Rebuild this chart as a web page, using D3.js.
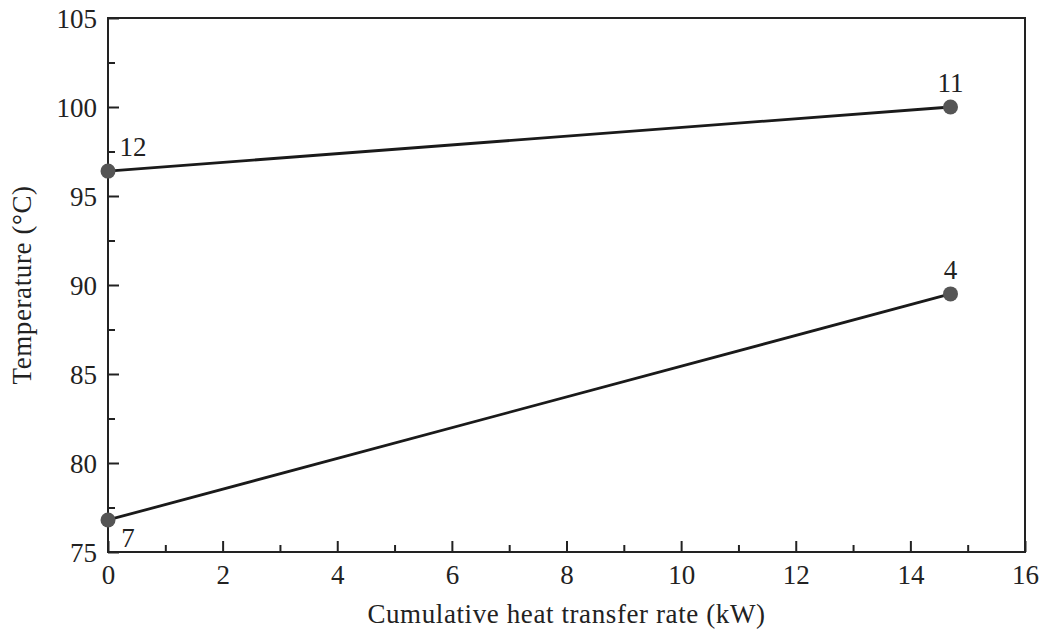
<!DOCTYPE html>
<html>
<head>
    <script src="https://d3js.org/d3.v7.min.js"></script>
    <style>
        body { margin: 0; background: #fff; }
        svg text { font-family: "Liberation Serif", "DejaVu Serif", serif; fill: #222; }
        .frame { fill: none; stroke: #222; stroke-width: 2px; }
        .series { fill: none; stroke: #1a1a1a; stroke-width: 2.8px; }
        .dot { fill: #555; }
    </style>
</head>
<body>
    <div id="chart"></div>

    <script>
        // Data
        const heatLow = [0, 14.7];       // kW
        const tempLow = [76.8, 89.5];    // °C
        const lowLabels = ["7", "4"];
        const heatHigh = [0, 14.7];
        const tempHigh = [96.4, 100.0];
        const highLabels = ["12", "11"];

        const xTicks = [0, 2, 4, 6, 8, 10, 12, 14, 16];
        const yTicks = [75, 80, 85, 90, 95, 100, 105];

        const W = 1041, H = 631;
        const margin = { top: 18, right: 16, bottom: 79, left: 108 };
        const fontSize = 27;

        const svg = d3.select("#chart").append("svg")
            .attr("width", W).attr("height", H);

        const x = d3.scaleLinear().domain([0, 16]).range([margin.left, W - margin.right]);
        const y = d3.scaleLinear().domain([75, 105]).range([H - margin.bottom, margin.top]);

        // frame
        svg.append("rect").attr("class", "frame")
            .attr("x", x(0)).attr("y", y(105))
            .attr("width", x(16) - x(0)).attr("height", y(75) - y(105));

        // inward ticks, major and minor
        const xAxis = svg.append("g").attr("transform", `translate(0,${y(75)})`)
            .call(d3.axisBottom(x).tickValues(xTicks).tickSize(-11).tickPadding(0).tickFormat(d3.format("d")));
        svg.append("g").attr("transform", `translate(0,${y(75)})`)
            .call(d3.axisBottom(x).tickValues(d3.range(1, 16, 2)).tickSize(-7).tickFormat(""));
        const yAxis = svg.append("g").attr("transform", `translate(${x(0)},0)`)
            .call(d3.axisLeft(y).tickValues(yTicks).tickSize(-11).tickPadding(11).tickFormat(d3.format("d")));
        svg.append("g").attr("transform", `translate(${x(0)},0)`)
            .call(d3.axisLeft(y).tickValues(d3.range(77.5, 105, 5)).tickSize(-7).tickFormat(""));

        svg.selectAll(".domain").remove();
        svg.selectAll("g").attr("font-family", null).attr("font-size", null);
        svg.selectAll(".tick line").attr("stroke", "#222").attr("stroke-width", 2);
        xAxis.selectAll("text").attr("font-size", fontSize).attr("fill", "#222").attr("dy", 32);
        yAxis.selectAll("text").attr("font-size", fontSize).attr("fill", "#222").attr("dy", "0.34em");

        // axis titles
        svg.append("text")
            .attr("x", (x(0) + x(16)) / 2).attr("y", 623)
            .attr("text-anchor", "middle").attr("font-size", fontSize)
            .attr("letter-spacing", 0.6)
            .text("Cumulative heat transfer rate (kW)");
        svg.append("text")
            .attr("transform", `translate(31,${(y(75) + y(105)) / 2}) rotate(-90)`)
            .attr("text-anchor", "middle").attr("font-size", fontSize)
            .attr("letter-spacing", 0.6)
            .text("Temperature (°C)");

        const line = d3.line().x(d => x(d[0])).y(d => y(d[1]));

        function drawSeries(hs, ts, labels, offsets) {
            const pts = hs.map((h, i) => [h, ts[i]]);
            svg.append("path").attr("class", "series").attr("d", line(pts));
            svg.selectAll(null).data(pts).enter().append("circle")
                .attr("class", "dot").attr("r", 7.5)
                .attr("cx", d => x(d[0])).attr("cy", d => y(d[1]));
            svg.selectAll(null).data(pts).enter().append("text")
                .attr("x", (d, i) => x(d[0]) + offsets[i][0])
                .attr("y", (d, i) => y(d[1]) + offsets[i][1])
                .attr("text-anchor", "middle").attr("font-size", fontSize)
                .text((d, i) => labels[i]);
        }

        drawSeries(heatHigh, tempHigh, highLabels, [[25, -15], [0, -15]]);
        drawSeries(heatLow, tempLow, lowLabels, [[20, 27], [0, -15]]);
    </script>
</body>
</html>
